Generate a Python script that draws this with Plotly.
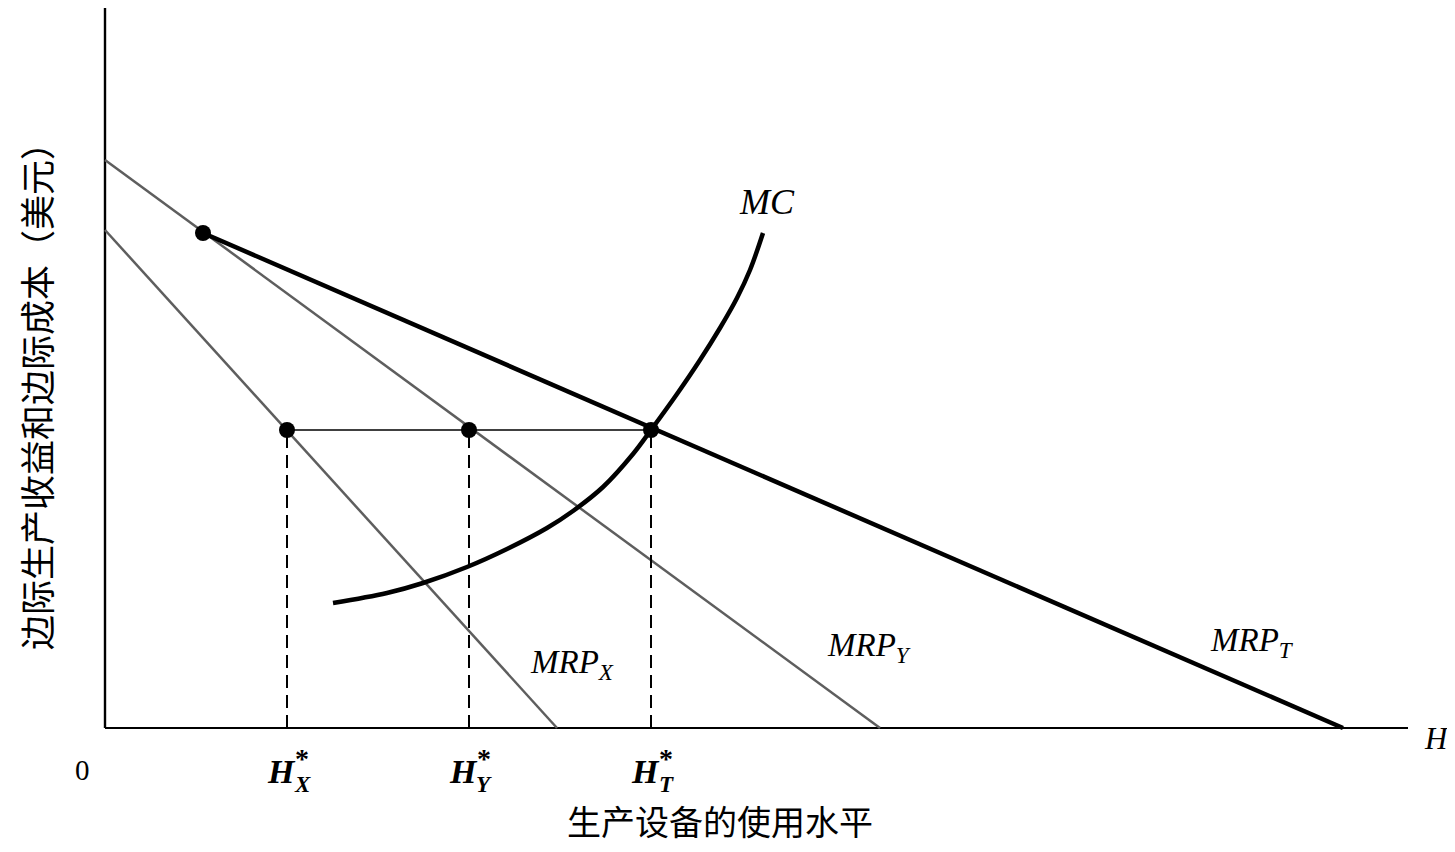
import plotly.graph_objects as go

# ---- data (units: horizontal = usage level H, vertical = dollars) ----
axis_h = [0, 130.3]
axis_v = [0, 72.0]

mrp_x_h = [0, 45.2]
mrp_x_val = [49.8, 0]

mrp_y_h = [0, 77.5]
mrp_y_val = [56.8, 0]

mrp_t_h = [9.8, 123.8]
mrp_t_val = [49.5, 0]

mc_h = [22.8, 28.2, 31.8, 36.2, 40.2, 44.2, 46.8, 49.8, 52.8, 54.6, 57.2, 59.5, 61.5, 63.2, 64.5, 65.8]
mc_val = [12.5, 13.5, 14.5, 16.1, 17.9, 20.0, 21.7, 24.1, 27.4, 29.8, 33.4, 36.8, 40.0, 43.0, 45.8, 49.5]

eq_val = 29.8
h_star_x = 18.2
h_star_y = 36.4
h_star_t = 54.6
kink_h = 9.8
kink_val = 49.5

fig = go.Figure()

# axes
fig.add_trace(go.Scatter(x=[axis_h[0], axis_h[1]], y=[0, 0], mode="lines",
                         line=dict(color="black", width=2), hoverinfo="skip"))
fig.add_trace(go.Scatter(x=[0, 0], y=[axis_v[0], axis_v[1]], mode="lines",
                         line=dict(color="black", width=2.4), hoverinfo="skip"))

# MRP lines
fig.add_trace(go.Scatter(x=mrp_x_h, y=mrp_x_val, mode="lines",
                         line=dict(color="#5e5e5e", width=2.5), hoverinfo="skip"))
fig.add_trace(go.Scatter(x=mrp_y_h, y=mrp_y_val, mode="lines",
                         line=dict(color="#5e5e5e", width=2.5), hoverinfo="skip"))
fig.add_trace(go.Scatter(x=mrp_t_h, y=mrp_t_val, mode="lines",
                         line=dict(color="black", width=4.5), hoverinfo="skip"))

# MC curve
fig.add_trace(go.Scatter(x=mc_h, y=mc_val, mode="lines",
                         line=dict(color="black", width=4.5, shape="spline", smoothing=1.0),
                         hoverinfo="skip"))

# horizontal line at equilibrium value
fig.add_trace(go.Scatter(x=[h_star_x, h_star_t], y=[eq_val, eq_val], mode="lines",
                         line=dict(color="black", width=1.6), hoverinfo="skip"))

# dashed verticals
for hv in [h_star_x, h_star_y, h_star_t]:
    fig.add_trace(go.Scatter(x=[hv, hv], y=[0, eq_val], mode="lines",
                             line=dict(color="black", width=2, dash="13px,7px"),
                             hoverinfo="skip"))

# dots
fig.add_trace(go.Scatter(x=[kink_h, h_star_x, h_star_y, h_star_t],
                         y=[kink_val, eq_val, eq_val, eq_val], mode="markers",
                         marker=dict(color="black", size=16), hoverinfo="skip"))

serif = "Liberation Serif"
cjk = "Noto Sans CJK SC"

ann = []
def add(x, y, text, size, family=serif, angle=0, xanchor="center", yanchor="middle"):
    ann.append(dict(x=x, y=y, xref="x", yref="y", text=text, showarrow=False,
                    font=dict(family=family, size=size, color="black"),
                    textangle=angle, xanchor=xanchor, yanchor=yanchor))

add(-2.3, -4.2, "0", 29)
add(131.7, -1.0, "<i>H</i>", 31, xanchor="left")
add(66.2, 52.6, "<i>MC</i>", 36)
add(46.7, 6.4, "<i>MRP</i><sub><i>X</i></sub>", 33)
add(76.4, 8.1, "<i>MRP</i><sub><i>Y</i></sub>", 33)
add(114.7, 8.6, "<i>MRP</i><sub><i>T</i></sub>", 33)

# H* labels
for hv, sub in [(h_star_x, "X"), (h_star_y, "Y"), (h_star_t, "T")]:
    add(hv - 0.6, -4.3, "<b><i>H</i></b>", 34)
    add(hv + 1.5, -3.0, "<b>*</b>", 28)
    add(hv + 1.5, -5.6, "<b><i>%s</i></b>" % sub, 23)

# axis titles
add(61.5, -9.2, "生产设备的使用水平", 34, family=cjk)
add(-7.0, 34.0, "边际生产收益和边际成本（美元）", 35, family=cjk, angle=-90)

# figure placed at page offset (8,8) by the default body margin
fig.update_layout(
    width=1439, height=836,
    margin=dict(l=0, r=0, t=0, b=0),
    paper_bgcolor="white", plot_bgcolor="white",
    showlegend=False,
    annotations=ann,
    xaxis=dict(range=[-9.7, 134.2], visible=False, fixedrange=True),
    yaxis=dict(range=[-11.6, 72.0], visible=False, fixedrange=True),
)

fig.write_html("out.html")
